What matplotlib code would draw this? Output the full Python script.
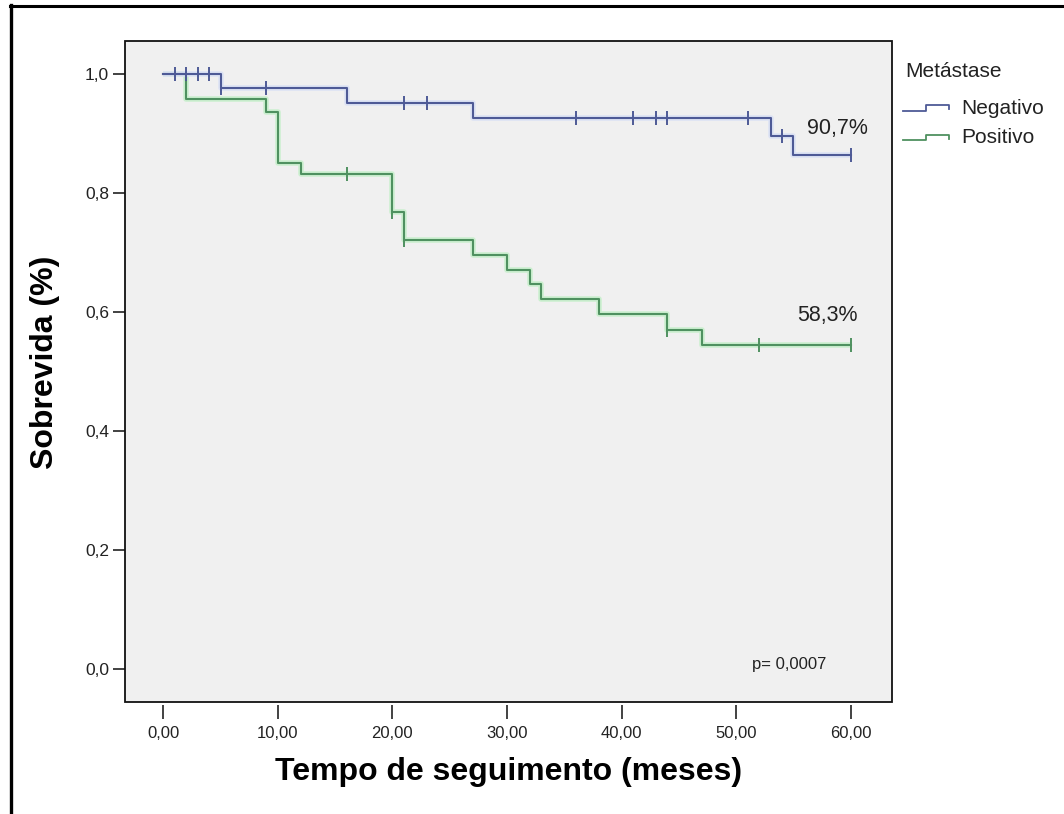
"""Kaplan-Meier survival by metastasis status, SPSS-style figure."""

import numpy as np
import matplotlib

matplotlib.use("Agg")
import matplotlib.pyplot as plt
from matplotlib.legend_handler import HandlerBase
from matplotlib.lines import Line2D
from matplotlib.patches import Rectangle
from matplotlib.ticker import FuncFormatter

plt.rcParams["font.family"] = ["Liberation Sans", "DejaVu Sans"]

# step curves: event times and survival after each event
NEG_TIMES = [0, 5, 16, 27, 53, 55, 60]
NEG_SURV = [1.0, 0.976, 0.951, 0.925, 0.895, 0.863, 0.863]
NEG_CENSORED = [1, 2, 3, 4, 5, 9, 21, 23, 36, 41, 43, 44, 51, 54, 60]

POS_TIMES = [0, 2, 9, 10, 12, 20, 21, 27, 30, 32, 33, 38, 44, 47, 60]
POS_SURV = [1.0, 0.957, 0.935, 0.850, 0.831, 0.767, 0.720, 0.695, 0.670,
            0.647, 0.622, 0.596, 0.569, 0.544, 0.544]
POS_CENSORED = [16, 20, 21, 44, 52, 60]

GROUPS = ["Negativo", "Positivo"]
X_TICKS = [0, 10, 20, 30, 40, 50, 60]
Y_TICKS = [0.0, 0.2, 0.4, 0.6, 0.8, 1.0]

BLUE = "#4E5A96"
BLUE_HALO = "#DCE2F4"
GREEN = "#4F9160"
GREEN_HALO = "#CBEFCF"
PANEL = "#F0F0F0"
TEXT = "#222222"

W, H = 1064, 814


def surv_at(times, surv, t):
    idx = np.searchsorted(times, t, side="right") - 1
    return np.asarray(surv)[idx]


class StepHandler(HandlerBase):
    """Legend key drawn as a little survival step."""

    def create_artists(self, legend, orig_handle, xdescent, ydescent,
                       width, height, fontsize, trans):
        x0 = -xdescent
        y0 = -ydescent + 0.22 * height
        y1 = -ydescent + 0.60 * height
        xs = [x0, x0 + 0.5 * width, x0 + 0.5 * width, x0 + width, x0 + width]
        ys = [y0, y0, y1, y1, y1 - 0.28 * height]
        line = Line2D(xs, ys, color=orig_handle.get_color(), lw=1.3)
        line.set_transform(trans)
        return [line]


fig = plt.figure(figsize=(W / 100, H / 100), dpi=100, facecolor="white")
ax = fig.add_axes([125 / W, 1 - 702 / H, (892 - 125) / W, (702 - 41) / H])
ax.set_facecolor(PANEL)

curves = [
    (POS_TIMES, POS_SURV, POS_CENSORED, GREEN, GREEN_HALO),
    (NEG_TIMES, NEG_SURV, NEG_CENSORED, BLUE, BLUE_HALO),
]
for times, surv, cens, color, halo in curves:
    ax.step(times, surv, where="post", color=halo, lw=4.0, solid_capstyle="butt", zorder=2)
    ax.step(times, surv, where="post", color=color, lw=1.5, zorder=3)
    ax.plot(cens, surv_at(times, surv, cens), ls="none", marker="|",
            markersize=10, mew=1.4, color=color, zorder=4)

ax.set_xlim(-3.34, 63.6)
ax.set_ylim(-0.0554, 1.0546)
ax.set_xticks(X_TICKS)
ax.set_yticks(Y_TICKS)
ax.xaxis.set_major_formatter(FuncFormatter(lambda v, _: f"{v:.2f}".replace(".", ",")))
ax.yaxis.set_major_formatter(FuncFormatter(lambda v, _: f"{v:.1f}".replace(".", ",")))
ax.tick_params(axis="x", direction="out", length=10, width=1.2, pad=5, labelsize=12, colors=TEXT)
ax.tick_params(axis="y", direction="out", length=8.6, width=1.2, pad=3, labelsize=12.5, colors=TEXT)

for side in ax.spines.values():
    side.set_visible(False)
ax.spines["bottom"].set_position(("outward", 2))
ax.add_patch(Rectangle((0, 0), 1, 1, transform=ax.transAxes, fill=False,
                       ec="#111111", lw=1.3, clip_on=False, zorder=6))

ax.set_xlabel("Tempo de seguimento (meses)", fontsize=23, fontweight="bold", va="center")
ax.xaxis.set_label_coords(0.5, -0.106)
ax.set_ylabel("Sobrevida (%)", fontsize=23, fontweight="bold", va="center")
ax.yaxis.set_label_coords(-0.104, 0.514)

ax.text(58.8, 0.908, "90,7%", fontsize=15.5, ha="center", va="center", color=TEXT)
ax.text(58.0, 0.594, "58,3%", fontsize=15.5, ha="center", va="center", color=TEXT)
ax.text(54.6, 0.007, "p= 0,0007", fontsize=12, ha="center", va="center", color=TEXT)

fig.text(905 / W, 1 - 71.5 / H, "Metástase", fontsize=15, ha="left", va="center", color=TEXT)
handles = [Line2D([], [], color=BLUE), Line2D([], [], color=GREEN)]
leg = fig.legend(handles, GROUPS, loc="upper left",
                 bbox_to_anchor=(903 / W, 1 - 99 / H), frameon=False,
                 fontsize=15, handlelength=2.2, handletextpad=0.6,
                 labelspacing=0.5, borderpad=0, borderaxespad=0,
                 handler_map={h: StepHandler() for h in handles})
for t in leg.get_texts():
    t.set_color(TEXT)

# partial frame around the picture (top and left edges only)
fig.add_artist(Line2D([10 / W, 1], [1 - 6 / H, 1 - 6 / H], transform=fig.transFigure,
                      color="black", lw=2.2))
fig.add_artist(Line2D([11 / W, 11 / W], [0, 1 - 5 / H], transform=fig.transFigure,
                      color="black", lw=2.4))

fig.savefig("out.png", dpi=100, facecolor="white")
